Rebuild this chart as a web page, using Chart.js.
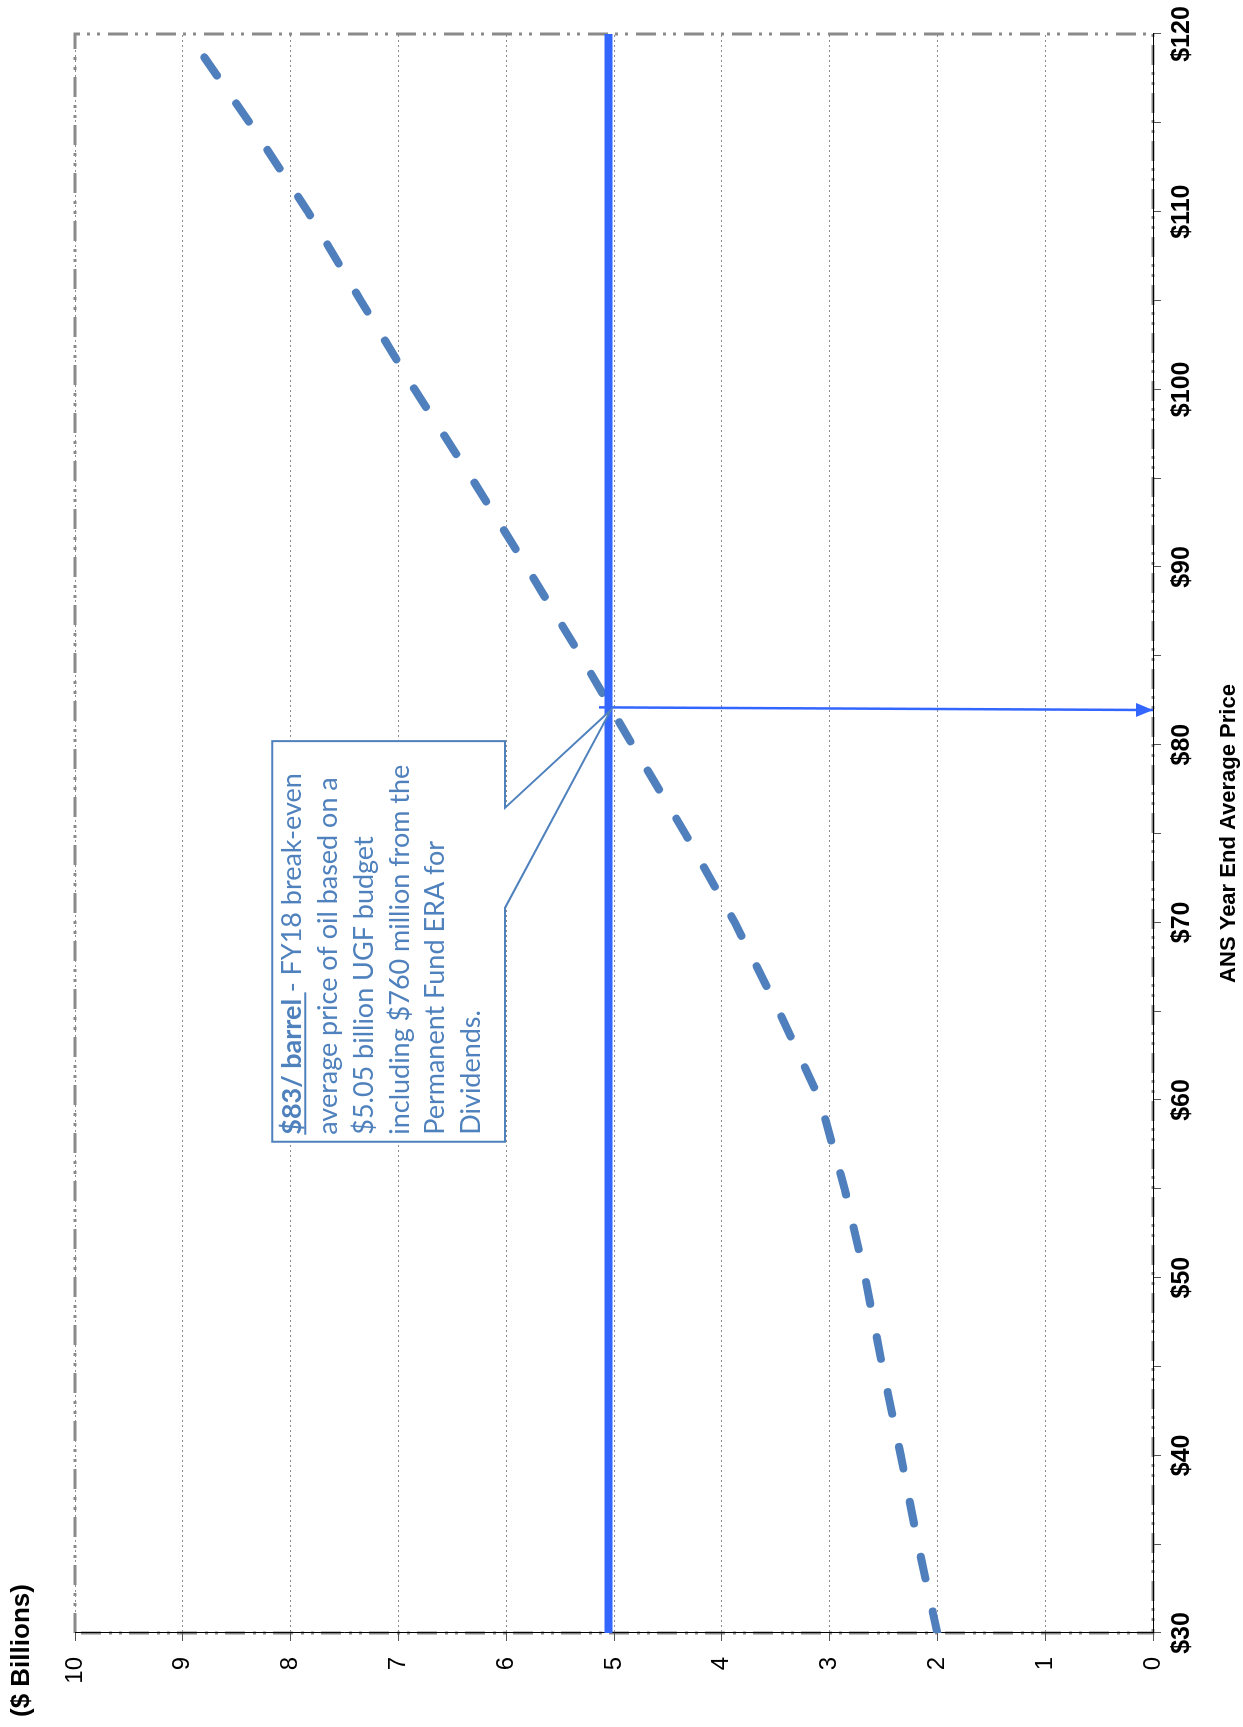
<!DOCTYPE html>
<html>
<head>
<meta charset="utf-8">
<title>UGF revenue and ANS oil price</title>
<script src="https://cdn.jsdelivr.net/npm/chart.js@4.4.1/dist/chart.umd.min.js"></script>
<style>
  html, body { margin: 0; padding: 0; background: #fff; overflow: hidden; }
  body { width: 1243px; height: 1727px; position: relative; }
  /* the chart is drawn landscape and turned a quarter turn */
  #wrap { position: absolute; left: 0; top: 0; width: 1727px; height: 1243px;
          transform-origin: 0 0; transform: translate(0, 1727px) rotate(-90deg); }
</style>
</head>
<body>
<div id="wrap"><canvas id="myChart" width="1727" height="1243"></canvas></div>
<script>
// ANS year end average price ($/bbl)
const prices = [30, 35, 40, 45, 50, 55, 60, 65, 70, 75, 80, 85, 90, 95, 100, 105, 110, 115, 120];
// UGF revenue ($ billions)
const revenue = [2.00, 2.18, 2.34, 2.51, 2.67, 2.86, 3.09, 3.47, 3.88, 4.34, 4.83, 5.31, 5.81, 6.32, 6.85, 7.35, 7.84, 8.38, 8.95];
// FY18 UGF budget incl. ERA draw
const budget = 5.05;
const budgetRange = [30, 120];
// break-even arrow, top to axis
const arrowPrice = [82.1, 81.95];
const arrowValue = [5.14, 0];

const noteLines = [
    ['$83/ barrel ', '- FY18 break-even'],
    ['', 'average price of oil based on a'],
    ['', '$5.05 billion UGF budget'],
    ['', 'including $760 million from the'],
    ['', 'Permanent Fund ERA for'],
    ['', 'Dividends.']
];
// callout box in data units
const note = { from: 57.65, to: 80.2, top: 8.17, bottom: 6.01, notch: [70.82, 76.45], tip: [81.95, 5.03] };

const fam = '"Liberation Sans", Arial, sans-serif';
const noteFam = 'Lato, "Open Sans", sans-serif';
const noteBlue = '#4f81bd';
const lineBlue = '#3366ff';

const frameAndNote = {
    id: 'frameAndNote',
    beforeDraw(chart) {
        const { ctx, chartArea: a } = chart;
        ctx.save();
        ctx.strokeStyle = '#8a8a8a';
        ctx.lineWidth = 3;
        ctx.setLineDash([20, 7, 3, 7, 3, 8]);
        ctx.strokeRect(a.left, a.top, a.right - a.left, a.bottom - a.top);
        ctx.restore();
    },
    afterDatasetsDraw(chart) {
        const { ctx, scales: { x, y } } = chart;

        // arrow head at the end of the break-even line
        const pts = chart.getDatasetMeta(2).data;
        const p0 = pts[0], p1 = pts[1];
        const ang = Math.atan2(p1.y - p0.y, p1.x - p0.x);
        ctx.save();
        ctx.fillStyle = lineBlue;
        ctx.translate(p1.x, p1.y);
        ctx.rotate(ang);
        ctx.beginPath();
        ctx.moveTo(0, 0);
        ctx.lineTo(-17, -7);
        ctx.lineTo(-17, 7);
        ctx.closePath();
        ctx.fill();
        ctx.restore();

        // callout box
        const L = x.getPixelForValue(note.from), R = x.getPixelForValue(note.to);
        const T = y.getPixelForValue(note.top), B = y.getPixelForValue(note.bottom);
        const n0 = x.getPixelForValue(note.notch[0]), n1 = x.getPixelForValue(note.notch[1]);
        const tx = x.getPixelForValue(note.tip[0]), ty = y.getPixelForValue(note.tip[1]);
        ctx.save();
        ctx.beginPath();
        ctx.moveTo(L, T);
        ctx.lineTo(R, T);
        ctx.lineTo(R, B);
        ctx.lineTo(n1, B);
        ctx.lineTo(tx, ty);
        ctx.lineTo(n0, B);
        ctx.lineTo(L, B);
        ctx.closePath();
        ctx.fillStyle = '#fff';
        ctx.fill();
        ctx.strokeStyle = noteBlue;
        ctx.lineWidth = 2;
        ctx.stroke();

        // text, sized so the longest line fills the box like the original
        let size = 26;
        ctx.font = size + 'px ' + noteFam;
        size = size * 370 / ctx.measureText(noteLines[3][1]).width;
        const pitch = 35.8;
        const tx0 = L + 7;
        let base = T + 29;
        ctx.fillStyle = noteBlue;
        ctx.textBaseline = 'alphabetic';
        noteLines.forEach(([bold, plain]) => {
            let cx = tx0;
            if (bold) {
                ctx.font = 'bold ' + size + 'px ' + noteFam;
                ctx.fillText(bold, cx, base);
                const bw = ctx.measureText(bold).width;
                ctx.fillRect(cx, base + 3, bw, 2);
                cx += bw;
            }
            ctx.font = size + 'px ' + noteFam;
            ctx.fillText(plain, cx, base);
            base += pitch;
        });
        ctx.restore();
    }
};

new Chart(document.getElementById('myChart'), {
    type: 'line',
    data: {
        datasets: [{
            label: 'UGF revenue',
            data: prices.map((p, i) => ({ x: p, y: revenue[i] })),
            borderColor: '#4f7fbd',
            borderWidth: 8,
            borderDash: [22, 34],
            borderCapStyle: 'round',
            pointRadius: 0,
            tension: 0,
            order: 1
        }, {
            label: 'FY18 budget',
            data: budgetRange.map(p => ({ x: p, y: budget })),
            borderColor: lineBlue,
            borderWidth: 8,
            pointRadius: 0,
            order: 0
        }, {
            label: 'Break-even',
            data: arrowPrice.map((p, i) => ({ x: p, y: arrowValue[i] })),
            borderColor: lineBlue,
            borderWidth: 2.5,
            pointRadius: 0,
            order: 0
        }]
    },
    options: {
        responsive: false,
        animation: false,
        devicePixelRatio: 1,
        layout: { padding: { left: 10, right: 34, top: 0, bottom: 0 } },
        plugins: {
            legend: { display: false },
            tooltip: { enabled: false },
            title: {
                display: true,
                text: '($ Billions)',
                align: 'start',
                color: '#000',
                font: { family: fam, size: 26, weight: 'bold' },
                padding: { top: 6, bottom: 37.8 }
            }
        },
        scales: {
            x: {
                type: 'linear',
                min: 30,
                max: 120,
                ticks: {
                    stepSize: 5,
                    autoSkip: false,
                    maxRotation: 0,
                    padding: 6,
                    color: '#000',
                    font: { family: fam, size: 25, weight: 'bold' },
                    callback: v => v % 10 === 0 ? '$' + v : ''
                },
                grid: { drawOnChartArea: false, tickLength: 8, tickColor: '#555', tickWidth: 1 },
                border: { color: '#000', width: 1 },
                title: {
                    display: true,
                    text: 'ANS Year End Average Price',
                    color: '#000',
                    font: { family: fam, size: 22, weight: 'bold' },
                    padding: { top: 12.8, bottom: 0.8 }
                }
            },
            y: {
                min: 0,
                max: 10,
                ticks: { stepSize: 1, padding: 16, color: '#000', font: { family: fam, size: 24 } },
                grid: { color: '#8c8c8c', lineWidth: 1, tickLength: 8, tickColor: '#555', tickWidth: 1 },
                border: { color: '#000', width: 1, dash: [2, 3] },
                afterFit(s) { s.width = 84; }
            }
        }
    },
    plugins: [frameAndNote]
});
</script>
</body>
</html>
